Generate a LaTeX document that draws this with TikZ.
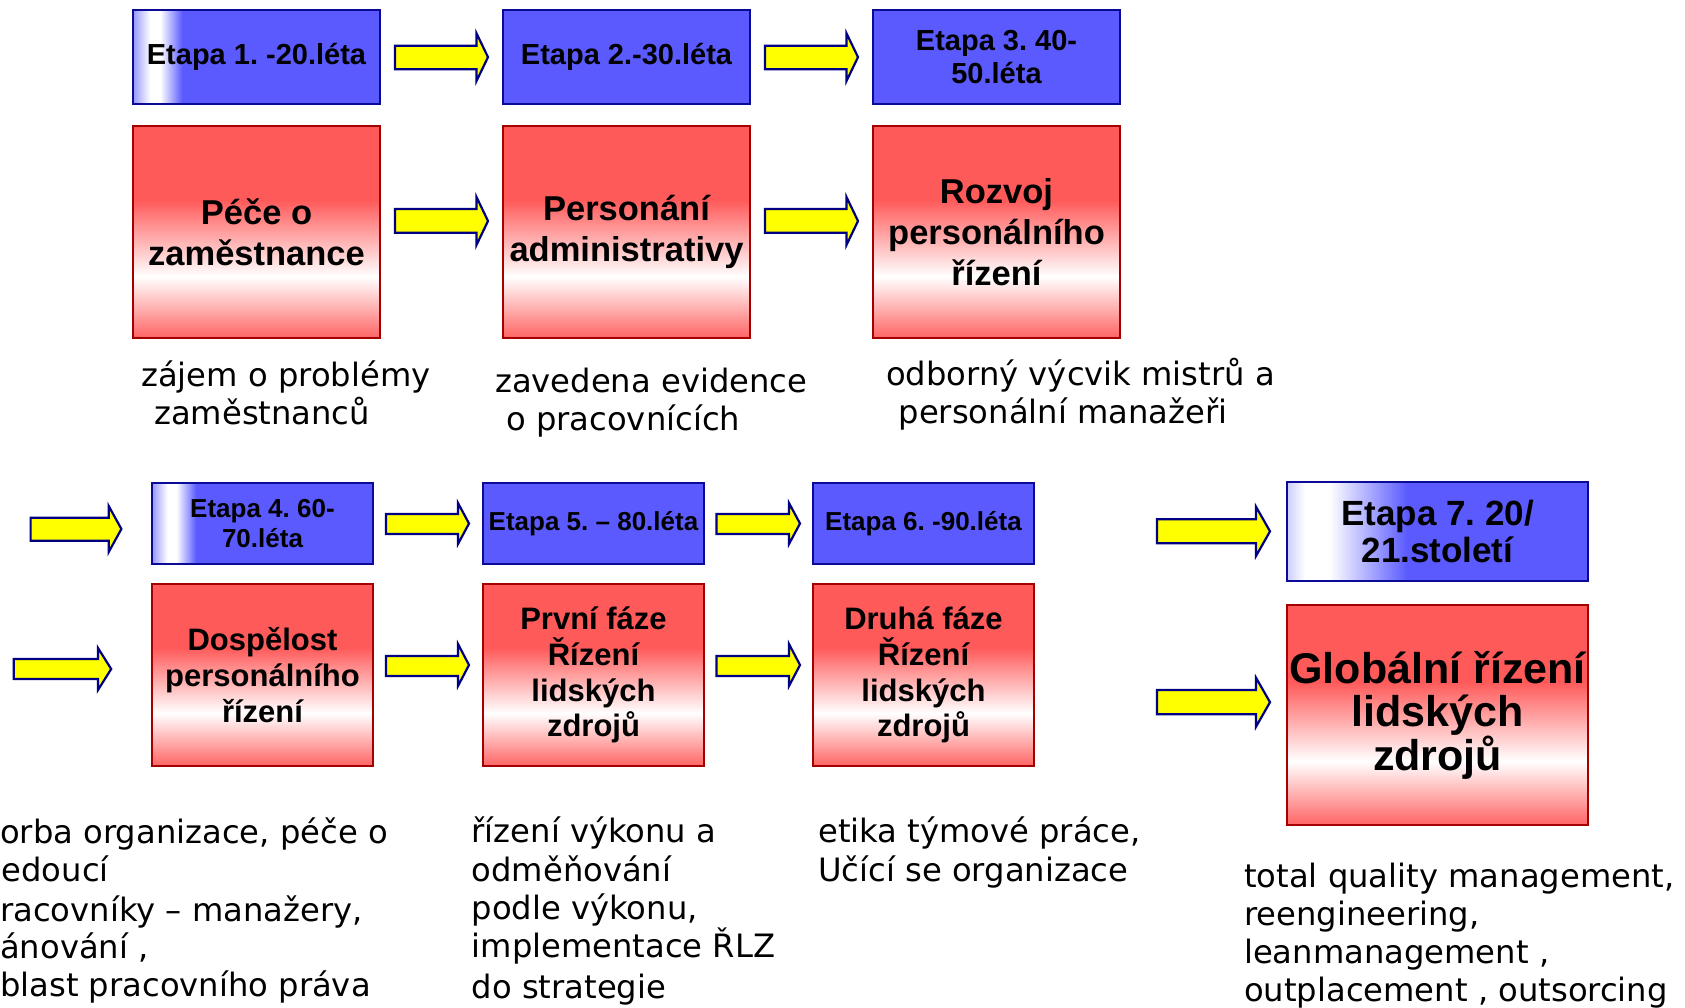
\documentclass[tikz,border=0pt]{standalone}
\usepackage{fontspec}
\newfontfamily\boxfont{Liberation Sans}
\newfontfamily\descfont{DejaVu Sans}
\definecolor{bluefill}{RGB}{90,90,255}
\definecolor{blueline}{RGB}{10,10,150}
\definecolor{lavA}{RGB}{150,150,255}
\definecolor{lavB}{RGB}{205,205,255}
\definecolor{redfill}{RGB}{255,90,90}
\definecolor{redbot}{RGB}{255,100,100}
\definecolor{redline}{RGB}{165,0,0}
\definecolor{arrowline}{RGB}{0,0,130}
\definecolor{arrowfill}{RGB}{255,255,0}
\pgfdeclareverticalshading{redgrad}{100bp}{color(0bp)=(redbot); color(25bp)=(redbot); color(39.5bp)=(white); color(57.5bp)=(redfill); color(100bp)=(redfill)}
\pgfdeclarehorizontalshading{blueA}{100bp}{color(0bp)=(lavA); color(25bp)=(lavA); color(28.5bp)=(white); color(30.5bp)=(white); color(35bp)=(bluefill); color(100bp)=(bluefill)}
\pgfdeclarehorizontalshading{blueB}{100bp}{color(0bp)=(lavB); color(25bp)=(lavB); color(28bp)=(white); color(32bp)=(white); color(45bp)=(bluefill); color(100bp)=(bluefill)}
\newcommand\blockarr[7]{%
  \draw[yarrow] (#1,#4) -- (#2,#4) -- (#2,#6) -- (#3,{(#6+#7)/2}) -- (#2,#7) -- (#2,#5) -- (#1,#5) -- cycle;}
\frenchspacing
\tikzset{
  boxbase/.style={inner sep=0pt, align=center, line width=2pt},
  bluebox/.style={boxbase, draw=blueline, fill=bluefill},
  redbox/.style={boxbase, draw=redline, shade, shading=redgrad},
  topA/.style={minimum width=247pt, minimum height=94pt, font=\boxfont\bfseries\frenchspacing\fontsize{29}{33}\selectfont},
  redA/.style={minimum width=247pt, minimum height=212pt, font=\boxfont\bfseries\frenchspacing\fontsize{34.5}{41}\selectfont},
  topB/.style={minimum width=221pt, minimum height=81pt, font=\boxfont\bfseries\frenchspacing\fontsize{26}{30.3}\selectfont},
  redB/.style={minimum width=221pt, minimum height=182pt, font=\boxfont\bfseries\frenchspacing\fontsize{31}{35.8}\selectfont},
  desc/.style={font=\descfont\frenchspacing\fontsize{32.2}{38.3}\selectfont, inner sep=0pt, anchor=base west},
  yarrow/.style={draw=arrowline, fill=arrowfill, line width=2.2pt, line join=miter},
}
\begin{document}
\begin{tikzpicture}[x=1pt,y=-1pt]
\useasboundingbox (0,0) rectangle (1685,1008);
\clip (0,0) rectangle (1685,1008);
% row 1 top boxes
\node[bluebox, topA, shade, shading=blueA] (b1) at (256.5,57) {Etapa 1. -20.léta};
\node[bluebox, topA] (b2) at (626.5,57) {Etapa 2.-30.léta};
\node[bluebox, topA] (b3) at (996.5,57) {Etapa 3. 40-\\50.léta};
% row 1 red boxes
\node[redbox, redA] (r1) at (256.5,232) {Péče o\\zaměstnance};
\node[redbox, redA] (r2) at (626.5,232) {Personání\\administrativy};
\node[redbox, redA] (r3) at (996.5,232) {Rozvoj\\personálního\\řízení};
% row 1 arrows
\blockarr{395}{476.5}{488}{45.7}{69.3}{33.3}{81}
\blockarr{765}{846.5}{858}{45.7}{69.3}{33.3}{81}
\blockarr{395}{476.5}{488}{209}{232.7}{197}{245}
\blockarr{765}{846.5}{858}{209}{232.7}{197}{245}
% row 1 descriptions
\node[desc] (t1a) at (141,386.5) {zájem o problémy};
\node[desc] (t1b) at (154,424.8) {zaměstnanců};
\node[desc] (t2a) at (495,392) {zavedena evidence};
\node[desc] (t2b) at (506,430.3) {o pracovnících};
\node[desc] (t3a) at (886,385.5) {odborný výcvik mistrů a};
\node[desc] (t3b) at (898.5,423.8) {personální manažeři};
% row 2 top boxes
\node[bluebox, topB, shade, shading=blueA] (b4) at (262.5,523.5) {Etapa 4. 60-\\70.léta};
\node[bluebox, topB] (b5) at (593.5,523.5) {Etapa 5. – 80.léta};
\node[bluebox, topB] (b6) at (923.5,523.5) {Etapa 6. -90.léta};
\node[bluebox, shade, shading=blueB, minimum width=301pt, minimum height=99pt,
  font=\boxfont\bfseries\frenchspacing\fontsize{35}{36.6}\selectfont] (b7) at (1437.5,531.5) {Etapa 7. 20/\\21.století};
% row 2 red boxes
\node[redbox, redB] (r4) at (262.5,675) {Dospělost\\personálního\\řízení};
\node[redbox, redB] (r5) at (593.5,675) {První fáze\\Řízení\\lidských\\zdrojů};
\node[redbox, redB] (r6) at (923.5,675) {Druhá fáze\\Řízení\\lidských\\zdrojů};
\node[redbox, minimum width=301pt, minimum height=220pt,
  font=\boxfont\bfseries\frenchspacing\fontsize{43}{43.5}\selectfont] (r7) at (1437.5,715) {Globální řízení\\lidských\\zdrojů};
% row 2 arrows
\blockarr{30.6}{108.7}{121.4}{517.7}{540.7}{506}{552}
\blockarr{13.8}{98}{111.2}{659}{679}{648}{690}
\blockarr{386}{458}{469}{514}{534}{503}{544}
\blockarr{386}{458}{469}{656}{676}{644}{686}
\blockarr{716.5}{789}{800}{514}{534}{503}{544}
\blockarr{716.5}{789}{800}{656}{676}{644}{686}
\blockarr{1157}{1256}{1270}{519.3}{543.3}{506.7}{556}
\blockarr{1157}{1256}{1270}{690}{714.3}{677.7}{726.7}
% row 2 descriptions
\node[desc] (t4a) at (0,843.3) {orba organizace, péče o};
\node[desc] (t4b) at (1.5,881.7) {edoucí};
\node[desc] (t4c) at (0,921) {racovníky – manažery,};
\node[desc] (t4d) at (0,958.3) {ánování ,};
\node[desc] (t4e) at (0,996.7) {blast pracovního práva};
\node[desc] (t5a) at (471.5,842.7) {řízení výkonu a};
\node[desc] (t5b) at (471.5,881) {odměňování};
\node[desc] (t5c) at (471.5,919.3) {podle výkonu,};
\node[desc] (t5d) at (471.5,957.7) {implementace ŘLZ};
\node[desc] (t5e) at (471.5,998) {do strategie};
\node[desc] (t6a) at (818,842.7) {etika týmové práce,};
\node[desc] (t6b) at (818,881) {Učící se organizace};
\node[desc] (t7a) at (1244,887.3) {total quality management,};
\node[desc] (t7b) at (1244,925) {reengineering,};
\node[desc] (t7c) at (1244,963.3) {leanmanagement ,};
\node[desc] (t7d) at (1244,1001.7) {outplacement , outsorcing};
\end{tikzpicture}
\end{document}
